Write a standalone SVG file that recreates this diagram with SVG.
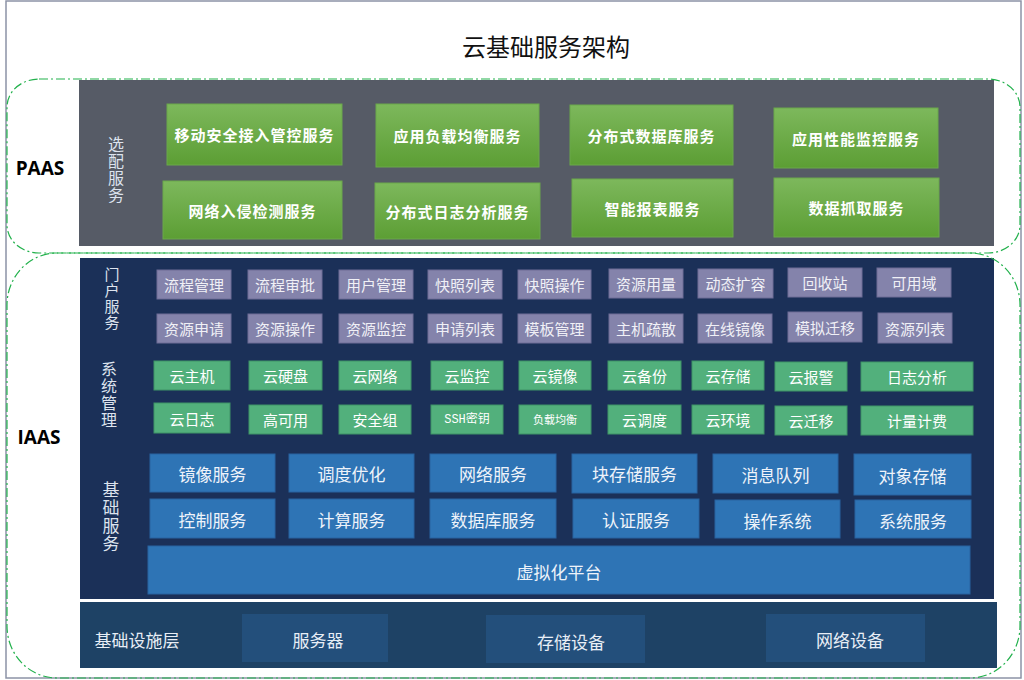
<svg xmlns="http://www.w3.org/2000/svg" width="1024" height="680" viewBox="0 0 1024 680">
<defs>
<linearGradient id="gGreen" x1="0" y1="0" x2="0" y2="1">
<stop offset="0" stop-color="#7db85c"/>
<stop offset="1" stop-color="#5c9e34"/>
</linearGradient>
<linearGradient id="gSep" x1="0" y1="0" x2="1" y2="0">
<stop offset="0" stop-color="#3f6aa8"/>
<stop offset="0.5" stop-color="#6f95c8"/>
<stop offset="1" stop-color="#3f6aa8"/>
</linearGradient>
<style>
text{font-family:"Noto Sans CJK SC","Liberation Sans",sans-serif;}
.paas rect{fill:url(#gGreen);stroke:#6aa84a;stroke-width:1;}
.paas text{fill:#ffffff;font-size:15px;font-weight:bold;letter-spacing:1px;text-anchor:middle;dominant-baseline:central;}
.portal rect{fill:#8483ab;stroke:#6e6d96;stroke-width:1;}
.portal text{fill:#f0f0f6;font-size:15px;text-anchor:middle;dominant-baseline:central;}
.sys rect{fill:#52b07c;stroke:#3f9366;stroke-width:1;}
.sys text{fill:#ffffff;font-size:15px;text-anchor:middle;dominant-baseline:central;}
.base rect{fill:#2e74b5;stroke:#2862a0;stroke-width:1;}
.base text{fill:#eef3fa;font-size:17px;text-anchor:middle;dominant-baseline:central;}
.infra rect{fill:#234f7b;}
.infra text{fill:#e8eef6;font-size:17px;text-anchor:middle;dominant-baseline:central;}
.vlabel{fill:#dde3ee;font-size:16px;text-anchor:middle;writing-mode:vertical-rl;letter-spacing:1px;}
.zone{fill:none;stroke:#22b14c;stroke-width:1.2;stroke-dasharray:9 3 2 3;}
.side{fill:#000;font-size:19px;font-weight:bold;text-anchor:middle;dominant-baseline:central;font-family:"Open Sans","Liberation Sans",sans-serif;}
</style>
</defs>

<rect x="0" y="0" width="1024" height="680" fill="#ffffff"/>
<rect x="6" y="1" width="1015" height="677" fill="none" stroke="#8c93a6" stroke-width="1.5"/>

<text x="546" y="45" font-size="24" text-anchor="middle" dominant-baseline="central" fill="#111">云基础服务架构</text>

<!-- PAAS -->
<g id="paas-panel">
<rect x="79" y="80" width="915" height="166" fill="#565b66"/>
<text class="vlabel" x="116" y="170">选配服务</text>
</g>
<g class="paas">
<g id="p1"><rect x="167" y="104" width="175" height="61"/><text x="254.5" y="134.5">移动安全接入管控服务</text></g>
<g id="p2"><rect x="376" y="104" width="163" height="63"/><text x="457.5" y="135.5">应用负载均衡服务</text></g>
<g id="p3"><rect x="570" y="105" width="163" height="60"/><text x="651.5" y="135">分布式数据库服务</text></g>
<g id="p4"><rect x="774" y="108" width="164" height="60"/><text x="856" y="138">应用性能监控服务</text></g>
<g id="p5"><rect x="163" y="181" width="179" height="58"/><text x="252.5" y="210">网络入侵检测服务</text></g>
<g id="p6"><rect x="375" y="183" width="165" height="56"/><text x="457.5" y="211">分布式日志分析服务</text></g>
<g id="p7"><rect x="572" y="179" width="161" height="58"/><text x="652.5" y="208">智能报表服务</text></g>
<g id="p8"><rect x="774" y="178" width="165" height="59"/><text x="856.5" y="207.5">数据抓取服务</text></g>
</g>

<!-- IAAS -->
<g id="iaas-panel">
<rect x="80" y="258" width="914" height="341" fill="#1b3058"/>
<line x1="95" y1="349" x2="972" y2="349" stroke="url(#gSep)" stroke-width="1.5"/>
<line x1="95" y1="443" x2="975" y2="443" stroke="url(#gSep)" stroke-width="1.5"/>
<text class="vlabel" x="112" y="299" style="font-size:15px">门户服务</text>
<text class="vlabel" x="109" y="395">系统管理</text>
<text class="vlabel" x="111" y="517" style="font-size:17px">基础服务</text>
</g>

<g class="portal">
<g id="pt1"><rect x="157" y="270" width="74" height="29"/><text x="194" y="284.5">流程管理</text></g>
<g id="pt2"><rect x="248" y="270" width="74" height="29"/><text x="285" y="284.5">流程审批</text></g>
<g id="pt3"><rect x="339" y="270" width="74" height="29"/><text x="376" y="284.5">用户管理</text></g>
<g id="pt4"><rect x="428" y="270" width="74" height="29"/><text x="465" y="284.5">快照列表</text></g>
<g id="pt5"><rect x="518" y="270" width="73" height="29"/><text x="554.5" y="284.5">快照操作</text></g>
<g id="pt6"><rect x="609" y="269" width="74" height="29"/><text x="646" y="283.5">资源用量</text></g>
<g id="pt7"><rect x="698" y="269" width="75" height="29"/><text x="735.5" y="283.5">动态扩容</text></g>
<g id="pt8"><rect x="788" y="268" width="74" height="29"/><text x="825" y="282.5">回收站</text></g>
<g id="pt9"><rect x="877" y="268" width="74" height="29"/><text x="914" y="282.5">可用域</text></g>
<g id="pt10"><rect x="157" y="314" width="74" height="29"/><text x="194" y="328.5">资源申请</text></g>
<g id="pt11"><rect x="248" y="314" width="74" height="29"/><text x="285" y="328.5">资源操作</text></g>
<g id="pt12"><rect x="339" y="314" width="74" height="29"/><text x="376" y="328.5">资源监控</text></g>
<g id="pt13"><rect x="428" y="314" width="74" height="29"/><text x="465" y="328.5">申请列表</text></g>
<g id="pt14"><rect x="518" y="314" width="73" height="29"/><text x="554.5" y="328.5">模板管理</text></g>
<g id="pt15"><rect x="609" y="314" width="74" height="29"/><text x="646" y="328.5">主机疏散</text></g>
<g id="pt16"><rect x="698" y="314" width="74" height="29"/><text x="735" y="328.5">在线镜像</text></g>
<g id="pt17"><rect x="788" y="312" width="74" height="30"/><text x="825" y="327">模拟迁移</text></g>
<g id="pt18"><rect x="878" y="313" width="74" height="30"/><text x="915" y="328">资源列表</text></g>
</g>

<g class="sys">
<g id="s1"><rect x="154" y="361" width="76" height="29"/><text x="192" y="375.5">云主机</text></g>
<g id="s2"><rect x="249" y="361" width="73" height="29"/><text x="285.5" y="375.5">云硬盘</text></g>
<g id="s3"><rect x="339" y="361" width="72" height="29"/><text x="375" y="375.5">云网络</text></g>
<g id="s4"><rect x="431" y="361" width="72" height="29"/><text x="467" y="375.5">云监控</text></g>
<g id="s5"><rect x="519" y="361" width="72" height="29"/><text x="555" y="375.5">云镜像</text></g>
<g id="s6"><rect x="608" y="361" width="73" height="29"/><text x="644.5" y="375.5">云备份</text></g>
<g id="s7"><rect x="692" y="361" width="72" height="29"/><text x="728" y="375.5">云存储</text></g>
<g id="s8"><rect x="775" y="362" width="72" height="29"/><text x="811" y="376.5">云报警</text></g>
<g id="s9"><rect x="861" y="362" width="112" height="29"/><text x="917" y="376.5">日志分析</text></g>
<g id="s10"><rect x="154" y="403" width="76" height="30"/><text x="192" y="418">云日志</text></g>
<g id="s11"><rect x="249" y="405" width="73" height="29"/><text x="285.5" y="419.5">高可用</text></g>
<g id="s12"><rect x="339" y="405" width="72" height="29"/><text x="375" y="419.5">安全组</text></g>
<g id="s13"><rect x="431" y="405" width="72" height="29"/><text x="467" y="419.5" style="font-size:12px;font-family:'Liberation Mono','Noto Sans CJK SC',monospace">SSH密钥</text></g>
<g id="s14"><rect x="519" y="405" width="72" height="29"/><text x="555" y="418.5" style="font-size:11px">负载均衡</text></g>
<g id="s15"><rect x="608" y="405" width="73" height="29"/><text x="644.5" y="419.5">云调度</text></g>
<g id="s16"><rect x="692" y="405" width="72" height="29"/><text x="728" y="419.5">云环境</text></g>
<g id="s17"><rect x="775" y="406" width="72" height="29"/><text x="811" y="420.5">云迁移</text></g>
<g id="s18"><rect x="861" y="406" width="112" height="29"/><text x="917" y="420.5">计量计费</text></g>
</g>

<g class="base">
<g id="b1"><rect x="150" y="454" width="125" height="38"/><text x="212.5" y="473">镜像服务</text></g>
<g id="b2"><rect x="289" y="454" width="125" height="38"/><text x="351.5" y="473">调度优化</text></g>
<g id="b3"><rect x="430" y="454" width="126" height="38"/><text x="493" y="473">网络服务</text></g>
<g id="b4"><rect x="572" y="454" width="125" height="39"/><text x="634.5" y="473.5">块存储服务</text></g>
<g id="b5"><rect x="713" y="454" width="125" height="39"/><text x="775.5" y="474">消息队列</text></g>
<g id="b6"><rect x="854" y="454" width="117" height="41"/><text x="912.5" y="475">对象存储</text></g>
<g id="b7"><rect x="150" y="499" width="125" height="39"/><text x="212.5" y="519">控制服务</text></g>
<g id="b8"><rect x="289" y="499" width="125" height="39"/><text x="351.5" y="519">计算服务</text></g>
<g id="b9"><rect x="430" y="499" width="126" height="39"/><text x="493" y="519">数据库服务</text></g>
<g id="b10"><rect x="573" y="499" width="126" height="39"/><text x="636" y="519">认证服务</text></g>
<g id="b11"><rect x="715" y="500" width="125" height="38"/><text x="777.5" y="520">操作系统</text></g>
<g id="b12"><rect x="855" y="500" width="116" height="38"/><text x="913" y="520">系统服务</text></g>
<g id="b13"><rect x="148" y="546" width="822" height="48"/><text x="559" y="571">虚拟化平台</text></g>
</g>

<!-- Infrastructure -->
<g id="infra-panel">
<rect x="80" y="602" width="917" height="66" fill="#1e4265"/>
<text x="137" y="639" fill="#e8eef6" font-size="17" text-anchor="middle" dominant-baseline="central">基础设施层</text>
</g>
<g class="infra">
<g id="i1"><rect x="242" y="614" width="146" height="48"/><text x="318" y="639">服务器</text></g>
<g id="i2"><rect x="486" y="615" width="159" height="48"/><text x="571" y="641">存储设备</text></g>
<g id="i3"><rect x="766" y="614" width="159" height="48"/><text x="850" y="639">网络设备</text></g>
</g>

<!-- zones -->
<g id="zones">
<rect class="zone" x="7" y="79" width="1013" height="174" rx="32" ry="28"/>
<rect class="zone" x="7" y="253" width="1013" height="425" rx="50" ry="52"/>
</g>
<text class="side" x="40" y="168">PAAS</text>
<text class="side" x="39" y="437">IAAS</text>
</svg>
